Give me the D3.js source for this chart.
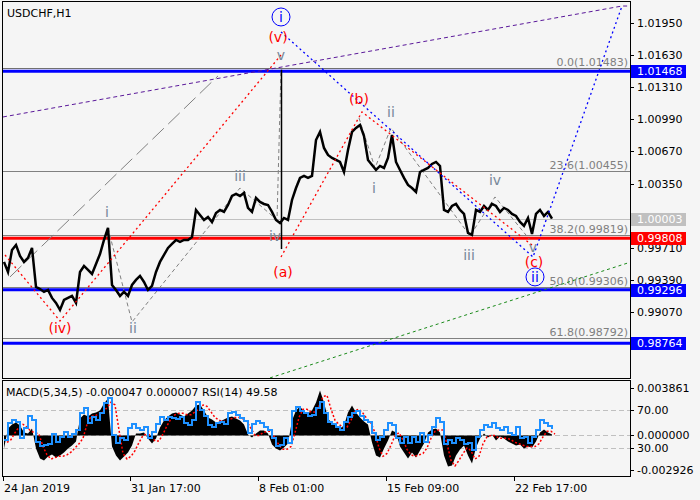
<!DOCTYPE html>
<html><head><meta charset="utf-8">
<script src="https://cdn.jsdelivr.net/npm/d3@7"></script>
<style>
body{margin:0;background:#f5f5f5}
svg{display:block}
text{font-family:"DejaVu Sans",sans-serif}
</style></head>
<body><svg id="c" width="700" height="500"></svg>
<script>
// ---------------- data ----------------
const chartTitle = "USDCHF,H1";
const indicatorTitle = "MACD(5,34,5) -0.000047 0.000007 RSI(14) 49.58";
const sampleStep = 4;      // bars between samples
const firstBar = 1;
const closePrices = [
0.99572,0.99472,0.99691,0.99741,0.99631,0.99572,0.99612,0.99711,0.99323,0.99303,
0.99274,0.99293,0.99214,0.99164,0.99095,0.99194,0.99214,0.99234,0.99164,0.99472,
0.99532,0.99492,0.99452,0.99552,0.99651,0.99790,0.99910,0.99343,0.99293,0.99234,
0.99274,0.99234,0.99343,0.99393,0.99433,0.99373,0.99293,0.99333,0.99472,0.99572,
0.99641,0.99711,0.99751,0.99790,0.99771,0.99790,0.99790,0.99820,1.00089,1.00039,
0.99989,1.00019,0.99969,1.00059,1.00089,1.00069,1.00138,1.00228,1.00248,1.00228,
1.00258,1.00109,1.00069,1.00208,1.00168,1.00148,1.00138,1.00069,0.99989,0.99959,
1.00009,0.99989,1.00188,1.00307,1.00407,1.00427,1.00407,1.00427,1.00784,1.00864,
1.00705,1.00635,1.00606,1.00586,1.00566,1.00466,1.00685,1.00864,1.00904,1.00934,
1.00824,1.00586,1.00536,1.00486,1.00526,1.00506,1.00606,1.00834,1.00566,1.00486,
1.00407,1.00337,1.00307,1.00268,1.00466,1.00486,1.00506,1.00546,1.00566,1.00526,
1.00089,1.00069,1.00128,1.00148,1.00089,1.00049,0.99860,0.99840,1.00089,1.00069,
1.00128,1.00089,1.00148,1.00128,1.00069,1.00109,1.00089,1.00049,1.00029,0.99969,
0.99930,1.00009,0.99850,1.00049,1.00089,1.00029,1.00069,1.00003];
const spikeBars = [278];
const spikeHighs = [1.01483];
const spikeLows = [0.99700];

const macdMain = [
-0.00094,0.00051,0.00079,0.00094,0.00072,0.00022,0.00014,0.00051,-0.00094,-0.00166,
-0.00181,-0.00152,-0.00137,-0.00159,-0.00144,-0.00123,-0.00094,-0.00072,-0.00043,0.00123,
0.00152,0.00137,0.00159,0.00166,0.00181,0.00231,0.00267,-0.00079,-0.00144,-0.00181,
-0.00152,-0.00123,-0.00072,0.00014,0.00014,0.00022,-0.00022,-0.00058,-0.00022,0.00058,
0.00108,0.00137,0.00159,0.00166,0.00152,0.00137,0.00159,0.00181,0.00217,0.00224,
0.00181,0.00130,0.00116,0.00094,0.00101,0.00116,0.00130,0.00137,0.00123,0.00108,
0.00079,0.00007,-0.00014,0.00014,0.00036,0.00036,0.00014,-0.00065,-0.00094,-0.00108,
-0.00087,-0.00058,0.00108,0.00181,0.00209,0.00173,0.00159,0.00181,0.00238,0.00325,
0.00238,0.00123,0.00087,0.00072,0.00051,0.00072,0.00166,0.00217,0.00166,0.00130,
0.00101,0.00079,-0.00051,-0.00144,-0.00159,-0.00094,-0.00036,0.00036,0.00022,-0.00079,
-0.00123,-0.00166,-0.00123,-0.00159,-0.00108,-0.00058,0.00022,0.00043,0.00051,0.00022,
-0.00144,-0.00224,-0.00217,-0.00144,-0.00101,-0.00072,-0.00144,-0.00202,-0.00087,-0.00022,
0.00014,-0.00014,0.00007,-0.00036,-0.00007,-0.00022,-0.00043,-0.00058,-0.00072,-0.00065,
-0.00094,-0.00079,-0.00087,-0.00043,0.00022,0.00043,0.00022,0.00007];
const macdSignal = [
-0.0005,-0.0003,0.0002,0.0006,0.0008,0.0006,0.0003,0.0002,0.0001,-0.0008,
-0.0014,-0.0017,-0.0016,-0.0015,-0.0015,-0.0014,-0.0012,-0.0009,-0.0006,-0.0002,
0.0008,0.0014,0.0014,0.0016,0.0017,0.0020,0.0024,0.0022,0.0004,-0.0013,
-0.0017,-0.0015,-0.0011,-0.0005,0.0000,0.0001,0.0000,-0.0004,-0.0004,0.0001,
0.0007,0.0012,0.0015,0.0016,0.0016,0.0015,0.0015,0.0017,0.0019,0.0022,
0.0021,0.0017,0.0013,0.0011,0.0010,0.0011,0.0012,0.0013,0.0013,0.0012,
0.0010,0.0005,0.0000,0.0000,0.0002,0.0003,0.0003,-0.0002,-0.0007,-0.0010,
-0.0010,-0.0008,0.0002,0.0013,0.0019,0.0019,0.0017,0.0017,0.0021,0.0028,
0.0029,0.0019,0.0011,0.0008,0.0006,0.0006,0.0011,0.0018,0.0019,0.0016,
0.0012,0.0009,0.0002,-0.0009,-0.0015,-0.0013,-0.0007,0.0000,0.0002,-0.0003,
-0.0010,-0.0014,-0.0015,-0.0014,-0.0013,-0.0009,-0.0002,0.0003,0.0004,0.0004,
-0.0006,-0.0018,-0.0022,-0.0018,-0.0013,-0.0009,-0.0011,-0.0017,-0.0015,-0.0006,
-0.0001,0.0000,0.0000,-0.0002,-0.0002,-0.0002,-0.0003,-0.0005,-0.0006,-0.0007,
-0.0008,-0.0008,-0.0008,-0.0006,-0.0001,0.0003,0.0003,0.0001];
const rsiValues = [
37.9,55.8,58.9,56.8,40.0,50.5,63.2,58.9,35.8,31.6,
32.6,33.7,44.2,35.8,41.1,46.3,41.1,44.2,48.4,66.3,
71.6,55.8,62.1,58.9,66.3,76.8,82.1,43.2,34.7,40.0,
37.9,50.5,54.7,50.5,48.4,51.6,40.0,46.3,54.7,62.1,
58.9,62.1,61.1,60.0,62.1,55.8,53.7,58.9,77.9,69.5,
63.2,53.7,51.6,55.8,56.8,54.7,66.3,67.4,64.2,61.1,
57.9,45.3,54.7,57.9,55.8,51.6,48.4,40.0,31.6,32.6,
40.0,34.7,68.4,72.6,68.4,66.3,63.2,64.2,71.6,77.9,
66.3,56.8,54.7,51.6,48.4,56.8,62.1,66.3,68.4,63.2,
58.9,56.8,45.3,37.9,41.1,48.4,55.8,53.7,40.0,34.7,
41.1,34.7,41.1,35.8,45.3,35.8,43.2,51.6,61.1,56.8,
33.7,37.9,34.7,40.0,37.9,33.7,34.7,27.4,41.1,48.4,
53.7,51.6,55.8,50.5,48.4,51.6,45.3,43.2,51.6,40.0,
41.1,34.7,41.1,48.4,58.9,55.8,52.6,49.6];

const dateLabels = ["24 Jan 2019","31 Jan 17:00","8 Feb 01:00","15 Feb 09:00","22 Feb 17:00"];
const dateLabelBars = [0,127,255,383,511];
const priceTicks = [1.01950,1.01630,1.01310,1.00990,1.00670,1.00350,0.99710,0.99390,0.99070];
const levelPrices = [1.01468,0.99808,0.99296,0.98764];
const levelColors = ["#0000ff","#ff0000","#0000ff","#0000ff"];
const fibNames = ["0.0","23.6","38.2","50.0","61.8"];
const fibPrices = [1.01483,1.00455,0.99819,0.99306,0.98792];
const fibColors = ["#707070","#808080","#808080","#808080","#808080"];
const bidPrice = 1.00003;
const macdLabels = ["0.003861","0.000000","-0.002926"];
const macdLabelValues = [0.003861,0,-0.002926];
const rsiLevels = [70,30];

// trend / wave lines as [bar, price]
const purpleLine = [[0,1.01013],[619,1.02116],[625,1.02116]];
const grayLongLine = [[7,0.99423],[215,1.01421]];
const redWave1 = [[2,0.99641],[57,0.98985],[278,1.01629]];
const redWave2 = [[278,0.99621],[359,1.01063],[529,0.99740]];
const blueWave = [[278,1.01858],[530,0.99621],[619,1.02116]];
const greenLine = [[267,0.98419],[625,0.99562]];
const graySub1 = [[105,0.99910],[129,0.98975],[237,1.00307],[274,0.99989],[278,1.01480]];
const graySub2 = [[356,1.01003],[372,1.00506],[388,1.00904],[467,0.99830],[492,1.00218],[527,0.99790]];

const waveTexts = ["(iv)","i","ii","iii","iv","v","(v)","(a)","(b)","i","ii","iii","iv","v","(c)"];
const waveBars  = [57,104,130,237,272,278,275,280,356,371,388,466,492,530,531];
const wavePrices= [0.98916,1.00069,0.98916,1.00427,0.99830,1.01630,1.01808,0.99472,1.01192,1.00307,1.01063,0.99641,1.00387,0.99721,0.99572];
const waveKinds = ["r","g","g","g","g","g","r","r","r","g","g","g","g","g","r"];
const circledTexts = ["i","ii"];
const circledBars = [278,532];
const circledPrices = [1.02007,0.99423];

// ---------------- drawing ----------------
const svg = d3.select("#c");
svg.append("rect").attr("width",700).attr("height",500).attr("fill","#f5f5f5");

const x = d3.scaleLinear().domain([0,627]).range([3,630]);
const y = d3.scaleLinear().domain([0.98418,1.02146]).range([378,3]);
const ym = d3.scaleLinear().domain([-0.002926,0.003861]).range([476,382]);
const yr = d3.scaleLinear().domain([0,100]).range([476,381]);
const barOf = i => firstBar + i*sampleStep;

const main = svg.append("g");
svg.append("clipPath").attr("id","mc").append("rect").attr("x",3).attr("y",2).attr("width",627).attr("height",376);
const plot = main.append("g").attr("clip-path","url(#mc)");

fibPrices.forEach((p,i)=>{
  plot.append("line").attr("x1",3).attr("x2",630).attr("y1",Math.round(y(p))-1.5).attr("y2",Math.round(y(p))-1.5)
    .attr("stroke",fibColors[i]).attr("stroke-width",1);
});
plot.append("line").attr("x1",3).attr("x2",630).attr("y1",Math.round(y(bidPrice))+0.5).attr("y2",Math.round(y(bidPrice))+0.5)
  .attr("stroke","#c0c0c0").attr("stroke-width",1);
levelPrices.forEach((p,i)=>{
  plot.append("line").attr("x1",3).attr("x2",630).attr("y1",y(p)).attr("y2",y(p))
    .attr("stroke",levelColors[i]).attr("stroke-width",3);
});
fibPrices.forEach((p,i)=>{
  plot.append("text").attr("x",628).attr("y",Math.round(y(p))-4).attr("text-anchor","end")
    .attr("font-size",11).attr("fill","#808080").text(fibNames[i]+"("+p.toFixed(5)+")");
});

const lineGen = d3.line().x(d=>x(d[0])).y(d=>y(d[1]));
function poly(pts,color,dash,w){
  plot.append("path").attr("d",lineGen(pts)).attr("fill","none").attr("stroke",color)
    .attr("stroke-width",w||1).attr("stroke-dasharray",dash);
}
poly(purpleLine,"#5a189a","4,3");
poly(grayLongLine,"#808080","16,6");
poly(greenLine,"#1a8a1a","3,3");
poly(graySub1,"#808080","4,3");
poly(graySub2,"#808080","4,3");

const priceLine = d3.line().x((d,i)=>x(barOf(i))).y(d=>y(d));
plot.append("path").attr("d",priceLine(closePrices)).attr("fill","none")
  .attr("stroke","#000").attr("stroke-width",2.5).attr("stroke-linejoin","miter");
spikeBars.forEach((b,i)=>{
  plot.append("line").attr("x1",x(b)+0.5).attr("x2",x(b)+0.5).attr("y1",y(spikeHighs[i])).attr("y2",y(spikeLows[i]))
    .attr("stroke","#000").attr("stroke-width",1.5);
});

poly(redWave1,"#ff0000","2,3",1.3);
poly(redWave2,"#ff0000","2,3",1.3);
poly(blueWave,"#0000ff","2,3",1.3);

waveTexts.forEach((t,i)=>{
  plot.append("text").attr("x",x(waveBars[i])).attr("y",y(wavePrices[i])).attr("dy","0.35em")
    .attr("text-anchor","middle").attr("font-size",14)
    .attr("fill",waveKinds[i]==="r"?"#ff0000":"#778899").text(t);
});
circledTexts.forEach((t,i)=>{
  const cx = x(circledBars[i]), cy = y(circledPrices[i]);
  plot.append("circle").attr("cx",cx).attr("cy",cy).attr("r",9).attr("fill","none").attr("stroke","#0000ff").attr("stroke-width",1);
  plot.append("text").attr("x",cx).attr("y",cy).attr("dy","0.35em").attr("text-anchor","middle")
    .attr("font-size",14).attr("fill","#0000ff").text(t);
});

svg.append("text").attr("x",7).attr("y",17).attr("font-size",11).attr("fill","#000").text(chartTitle);

svg.append("rect").attr("x",2.5).attr("y",1.5).attr("width",628).attr("height",377).attr("fill","none").attr("stroke","#000");
svg.append("rect").attr("x",2.5).attr("y",380.5).attr("width",628).attr("height",96).attr("fill","none").attr("stroke","#000");

priceTicks.forEach(p=>{
  const yy = Math.round(y(p))+0.5;
  svg.append("line").attr("x1",630).attr("x2",634).attr("y1",yy).attr("y2",yy).attr("stroke","#000");
  svg.append("text").attr("x",637).attr("y",yy).attr("dy","0.36em").attr("font-size",11).attr("fill","#000").text(p.toFixed(5));
});
function tag(p,color){
  const yy = Math.round(y(p));
  svg.append("rect").attr("x",631).attr("y",yy-6).attr("width",55).attr("height",13).attr("fill",color);
  svg.append("text").attr("x",637).attr("y",yy+0.5).attr("dy","0.36em").attr("font-size",11).attr("fill","#fff").text(p.toFixed(5));
}
tag(bidPrice,"#c0c0c0");
levelPrices.forEach((p,i)=>tag(p,levelColors[i]));

const ind = svg.append("g");
svg.append("clipPath").attr("id","ic").append("rect").attr("x",3).attr("y",381).attr("width",627).attr("height",95);
const ip = ind.append("g").attr("clip-path","url(#ic)");
[yr(70), ym(0), yr(30)].forEach(v=>{
  ip.append("line").attr("x1",3).attr("x2",630).attr("y1",Math.round(v)+0.5).attr("y2",Math.round(v)+0.5)
    .attr("stroke","#c0c0c0").attr("stroke-dasharray","5,3");
});
const area = d3.area().x((d,i)=>x(barOf(i))).y0(ym(0)).y1(d=>ym(d));
ip.append("path").attr("d",area(macdMain)).attr("fill","#000");
const sigLine = d3.line().x((d,i)=>x(barOf(i)+3)).y(d=>ym(d));
ip.append("path").attr("d",sigLine(macdSignal)).attr("fill","none").attr("stroke","#ff0000").attr("stroke-width",1.5).attr("stroke-dasharray","2,2");
const rsiLine = d3.line().x((d,i)=>x(barOf(i))).y(d=>yr(d)).curve(d3.curveStepAfter);
ip.append("path").attr("d",rsiLine(rsiValues)).attr("fill","none").attr("stroke","#1e90ff").attr("stroke-width",2);
svg.append("text").attr("x",6).attr("y",396).attr("font-size",11).attr("fill","#000").text(indicatorTitle);

const indLabelY = [ym(macdLabelValues[0])+5.5, ym(0), ym(macdLabelValues[2])-6.5];
macdLabels.forEach((t,i)=>{
  const yy = Math.round(indLabelY[i])+0.5;
  svg.append("line").attr("x1",630).attr("x2",634).attr("y1",yy).attr("y2",yy).attr("stroke","#000");
  svg.append("text").attr("x",637).attr("y",yy).attr("dy","0.36em").attr("font-size",11).attr("fill","#000").text(t);
});
rsiLevels.forEach(v=>{
  const yy = Math.round(yr(v))+0.5;
  svg.append("line").attr("x1",630).attr("x2",634).attr("y1",yy).attr("y2",yy).attr("stroke","#000");
  svg.append("text").attr("x",637).attr("y",yy).attr("dy","0.36em").attr("font-size",11).attr("fill","#000").text(v.toFixed(2));
});

dateLabels.forEach((t,i)=>{
  const xx = Math.round(x(dateLabelBars[i]))+0.5;
  svg.append("line").attr("x1",xx).attr("x2",xx).attr("y1",476).attr("y2",481).attr("stroke","#000");
  svg.append("text").attr("x",xx+0.5).attr("y",492).attr("font-size",11).attr("fill","#000").text(t);
});
</script></body></html>
